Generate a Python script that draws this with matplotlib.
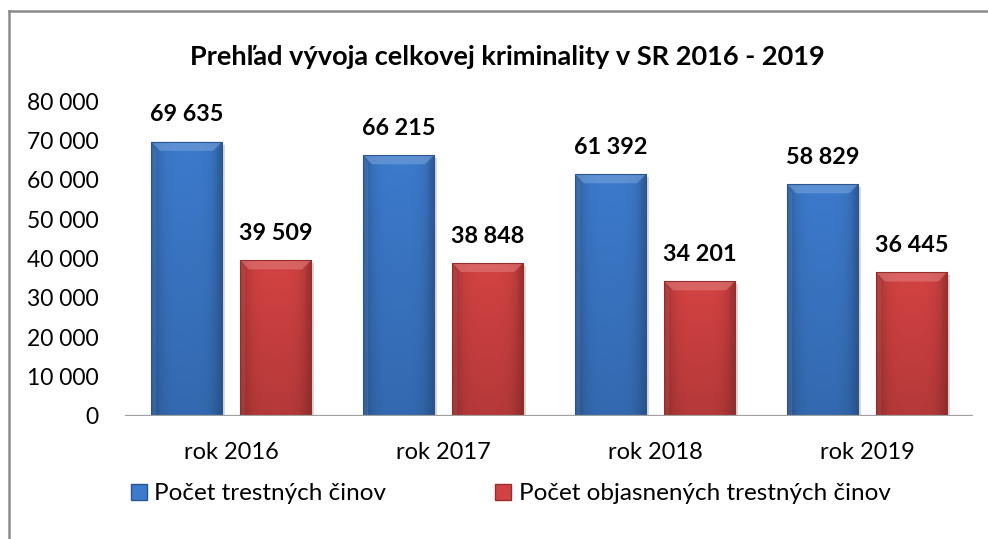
import matplotlib
matplotlib.use('Agg')
import matplotlib.pyplot as plt
import numpy as np
from matplotlib.patches import Polygon, Rectangle
from matplotlib.lines import Line2D

categories = ['rok 2016', 'rok 2017', 'rok 2018', 'rok 2019']
crimes = [69635, 66215, 61392, 58829]
solved = [39509, 38848, 34201, 36445]
series_names = ['Počet trestných činov', 'Počet objasnených trestných činov']
yticks = [0, 10000, 20000, 30000, 40000, 50000, 60000, 70000, 80000]
ytick_labels = ['0', '10 000', '20 000', '30 000', '40 000', '50 000', '60 000', '70 000', '80 000']
title = 'Prehľad vývoja celkovej kriminality v SR 2016 - 2019'

plt.rcParams['font.family'] = ['Lato', 'DejaVu Sans']

W, H = 988, 539
fig = plt.figure(figsize=(W / 100, H / 100), dpi=100)
ax_l, ax_r, ax_t, ax_b = 125, 973, 101, 416
ax = fig.add_axes([ax_l / W, (H - ax_b) / H, (ax_r - ax_l) / W, (ax_b - ax_t) / H])
ax.set_xlim(-0.5, len(categories) - 0.5)
ax.set_ylim(0, 80000)

px_x = (len(categories)) / (ax_r - ax_l)   # data units per pixel (x)
px_y = 80000 / (ax_b - ax_t)               # data units per pixel (y)

blue = np.array([0x3c, 0x7a, 0xcc]) / 255
red = np.array([0xd3, 0x42, 0x42]) / 255

x = np.arange(len(categories))
bw = 0.335
off = 0.21


def fancy_bars(xpos, vals, base, label):
    bars = ax.bar(xpos, vals, bw, color=base, edgecolor='none', zorder=3, label=label)
    for b in bars:
        x0, y0 = b.get_x(), b.get_y()
        w, h = b.get_width(), b.get_height()
        # shadow
        ax.add_patch(Rectangle((x0 + 3 * px_x, y0), w, h - 3 * px_y, facecolor='#000000',
                               alpha=0.15, edgecolor='none', zorder=2))
        # gradient
        u = np.linspace(0, 1, 60)
        v = np.linspace(0, 1, 100)[:, None]
        fx = 1 - 0.28 * np.abs(2 * u - 1) ** 4
        fy = 0.86 + 0.14 * v
        img = (base[None, None, :] * (fx[None, :, None] * fy[:, :, None]))
        img = np.clip(img, 0, 1)
        im = ax.imshow(img, extent=[x0, x0 + w, y0, y0 + h], origin='lower',
                       aspect='auto', zorder=4, interpolation='bilinear')
        im.set_clip_path(b)
        bx, by = 9 * px_x, 9 * px_y
        top = y0 + h
        light = base + (1 - base) * 0.3
        ax.add_patch(Polygon([(x0, top), (x0 + w, top), (x0 + w - bx, top - by), (x0 + bx, top - by)],
                             closed=True, facecolor=light, edgecolor='none', alpha=0.6, zorder=5))
        dark = base * 0.75
        ax.add_patch(Polygon([(x0 + w, top), (x0 + w, y0), (x0 + w - bx * 0.6, y0), (x0 + w - bx * 0.6, top - by)],
                             closed=True, facecolor=dark, edgecolor='none', alpha=0.35, zorder=5))
        ax.add_patch(Polygon([(x0, top), (x0, y0), (x0 + bx * 0.6, y0), (x0 + bx * 0.6, top - by)],
                             closed=True, facecolor=light, edgecolor='none', alpha=0.2, zorder=5))
        ax.add_patch(Rectangle((x0, y0), w, h, facecolor='none', edgecolor=base * 0.7,
                               linewidth=0.8, zorder=6))
        ax.text(x0 + w / 2, top + 27 * px_y, f"{int(h):,}".replace(',', ' '),
                ha='center', va='center', fontsize=16.8, fontweight='bold', color='black', zorder=7)
    return bars


fancy_bars(x - off, crimes, blue, series_names[0])
fancy_bars(x + off, solved, red, series_names[1])

ax.axhline(0, color='#a0a0a0', lw=1.6, zorder=8)
for s in ax.spines.values():
    s.set_visible(False)
ax.set_yticks(yticks)
ax.set_yticklabels(ytick_labels)
ax.set_xticks(x)
ax.set_xticklabels(categories)
ax.tick_params(axis='y', length=0, pad=19, labelsize=16.5)
ax.tick_params(axis='x', length=0, pad=19, labelsize=17)

fig.text(507 / W, 1 - 57 / H, title, ha='center', va='center', fontsize=19.5, fontweight='bold')

# legend
handles = [Rectangle((0, 0), 1, 1, facecolor=blue, edgecolor=blue * 0.7),
           Rectangle((0, 0), 1, 1, facecolor=red, edgecolor=red * 0.7)]
leg = fig.legend(handles, series_names, ncol=2, loc='center left',
                 bbox_to_anchor=(131 / W, 1 - 494 / H), frameon=False, fontsize=17.5,
                 handlelength=0.65, handleheight=0.65, handletextpad=0.3, columnspacing=4.5,
                 borderaxespad=0, borderpad=0)

# chart border (top and left visible)
fig.add_artist(Line2D([9 / W, 1], [1 - 11 / H, 1 - 11 / H], color='#8c8c8c', lw=1.8))
fig.add_artist(Line2D([9 / W, 9 / W], [0, 1 - 11 / H], color='#8c8c8c', lw=1.8))

fig.savefig('out.png', dpi=100)
